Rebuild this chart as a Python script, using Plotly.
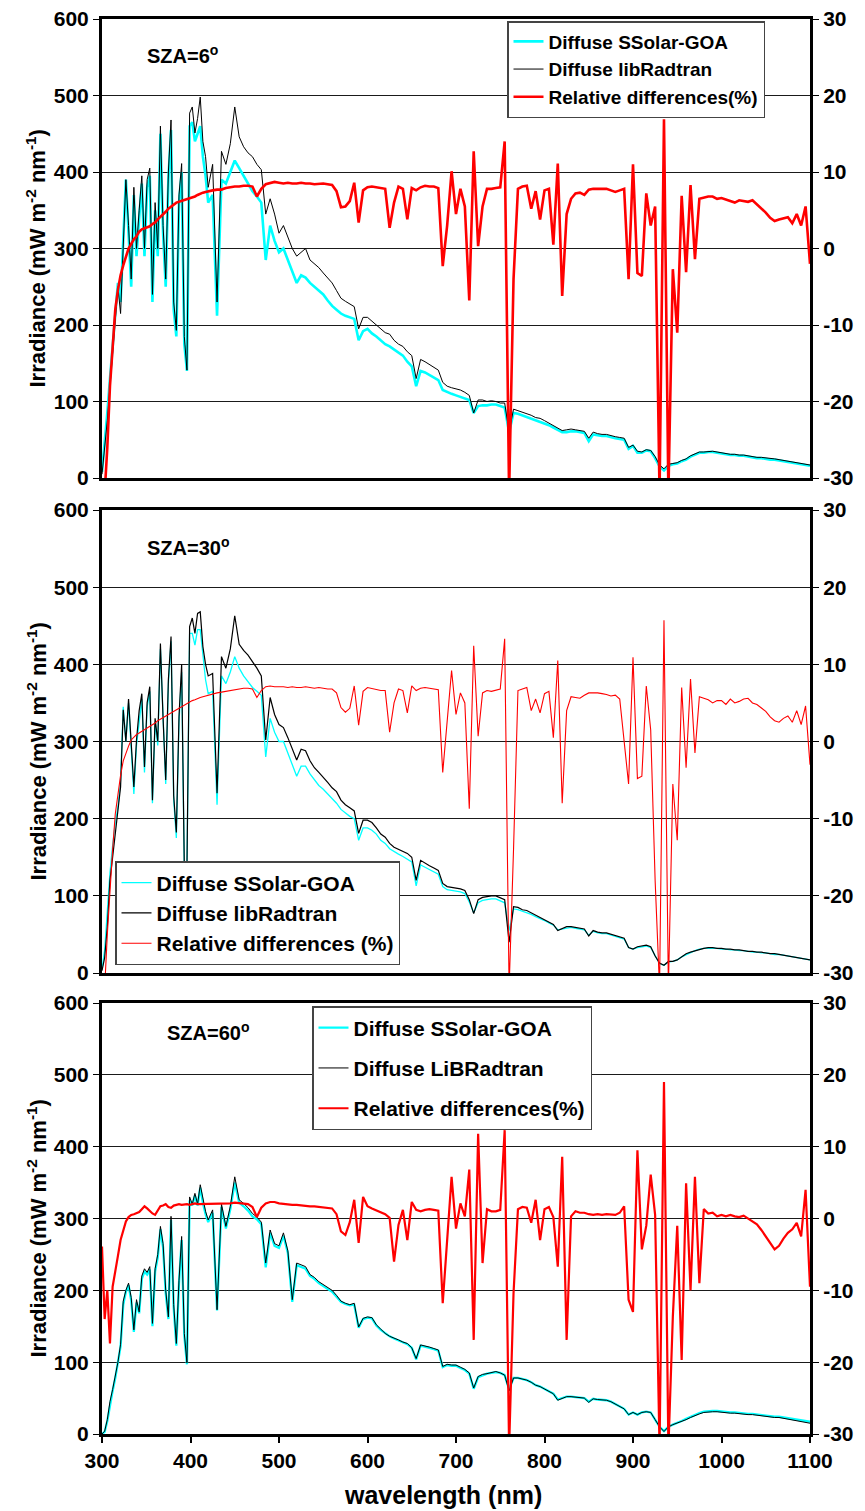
import plotly.graph_objects as go

# ---------------- data ----------------
WAVELENGTH = [300, 303, 306, 309, 312, 315, 318, 321, 324, 327, 330, 333, 336, 339, 342, 345, 348, 351, 354, 357,
              360, 363, 366, 369, 372, 375, 378, 381, 384, 387, 390, 393, 396, 399, 402, 405, 408, 411, 414, 417, 420,
              425, 430, 435, 440, 445, 450, 455, 460, 465, 470, 475, 480, 485, 490, 495, 500,
              505, 510, 515, 520, 525, 530, 535, 540, 545, 550, 555, 560, 565, 570, 575, 580, 585, 590, 595, 600,
              605, 610, 615, 620, 625, 630, 635, 640, 645, 650, 655, 660, 665, 670, 675, 680, 685, 690, 695, 700,
              705, 710, 715, 720, 725, 730, 735, 740, 745, 750, 755, 760, 765, 770, 775, 780, 785, 790, 795, 800,
              805, 810, 815, 820, 825, 830, 835, 840, 845, 850, 855, 860, 865, 870, 875, 880, 885, 890, 895, 900,
              905, 910, 915, 920, 925, 930, 935, 940, 945, 950, 955, 960, 965, 970, 975, 980, 985, 990, 995, 1000,
              1005, 1010, 1015, 1020, 1025, 1030, 1035, 1040, 1045, 1050, 1055, 1060, 1065, 1070, 1075, 1080, 1085, 1090, 1095, 1100]

# SZA = 6 deg
LIBRAD_6 = [5, 40, 75, 120, 160, 200, 250, 215, 300, 390, 330, 260, 380, 300, 350, 395, 300, 390, 405, 240,
            360, 300, 460, 330, 260, 400, 468, 230, 193, 370, 411, 185, 141, 477, 485, 451, 470, 498, 440, 420, 380,
            410, 230, 427, 410, 437, 485, 446, 433, 425, 420, 410, 403, 345, 365, 345, 320,
            330, 315, 300, 290, 295, 300, 285, 280, 275, 268, 262, 255, 245, 235, 231, 228, 224, 195, 210, 210,
            205, 200, 195, 190, 188, 180, 175, 172, 165, 160, 130, 155, 152, 148, 145, 141, 125, 120, 118, 117,
            115, 112, 108, 85, 102, 102, 100, 101, 100, 98, 98, 60, 90, 88, 86, 85, 82, 79, 78, 75,
            72, 68, 65, 62, 63, 64, 63, 62, 61, 52, 60, 58, 57, 57, 55, 54, 53, 52, 40, 43,
            35, 34, 37, 36, 28, 17, 12, 18, 19, 20, 23, 25, 29, 32, 34, 34, 35, 35, 34, 33,
            32, 31, 31, 30, 30, 29, 28, 27, 27, 26, 25, 25, 24, 23, 22, 21, 20, 19, 18, 17]
SSOLAR_6 = [8, 45, 85, 130, 170, 210, 255, 230, 310, 390, 320, 250, 370, 290, 340, 385, 290, 380, 395, 230,
            350, 290, 450, 320, 250, 390, 455, 220, 185, 360, 400, 175, 140, 460, 465, 440, 450, 460, 420, 395, 360,
            370, 212, 390, 385, 400, 415, 405, 395, 385, 375, 368, 360, 285, 330, 310, 295,
            300, 285, 270, 255, 265, 262, 255, 250, 245, 240, 232, 225, 220, 215, 212, 210, 208, 180, 192, 195,
            189, 185, 180, 175, 172, 168, 165, 160, 152, 146, 120, 140, 138, 135, 132, 128, 115, 112, 110, 108,
            106, 105, 102, 85, 94, 95, 95, 96, 96, 94, 92, 60, 85, 84, 82, 80, 78, 76, 74, 72,
            69, 66, 63, 60, 60, 61, 61, 60, 59, 48, 57, 56, 55, 55, 53, 52, 51, 50, 38, 42,
            33, 33, 36, 35, 26, 15, 10, 16, 18, 19, 22, 24, 28, 31, 33, 33, 34, 34, 33, 32,
            31, 30, 30, 29, 29, 28, 27, 26, 26, 25, 24, 24, 23, 22, 21, 20, 19, 18, 17, 16]
RELDIFF_6 = [-32, -32, -26, -18, -13, -8, -5.4, -3.5, -2.2, -1.2, 0, 0.6, 1.2, 1.6, 2.2, 2.5, 2.6, 2.7, 2.9, 3.2,
             3.4, 3.8, 4.1, 4.4, 4.8, 5.2, 5.5, 5.8, 6.0, 6.1, 6.2, 6.4, 6.5, 6.6, 6.7, 6.8, 7.0, 7.2, 7.3, 7.4, 7.5,
             7.6, 7.7, 7.7, 7.9, 8.0, 8.1, 8.1, 8.2, 8.2, 8.1, 6.8, 7.8, 8.4, 8.6, 8.7, 8.6,
             8.5, 8.6, 8.5, 8.5, 8.6, 8.5, 8.5, 8.4, 8.5, 8.5, 8.4, 8.3, 7.5, 5.4, 5.5, 6.2, 8.6, 3.4, 7.6, 8.0,
             8.1, 8.0, 7.9, 7.8, 2.7, 6.0, 8.1, 7.8, 3.8, 7.9, 7.6, 8.0, 8.2, 8.1, 8.1, 7.9, -2.3, 3.0, 10.1, 4.5,
             7.8, 5.5, -6.8, 12.7, 0.3, 5.5, 7.8, 7.8, 7.9, 8.0, 14.0, -32, -4, 7.8, 8.1, 8.2, 5.2, 7.5, 3.8, 7.6,
             7.8, 0.5, 11.1, -6.2, 4.5, 6.5, 7.2, 7.3, 7.0, 7.7, 7.8, 7.8, 7.8, 7.8, 7.6, 7.4, 7.6, 7.8, -4, 11.0,
             -3.2, -3.6, 7.2, 3.0, 5.5, -32, 16.9, -32, -2.7, -11, 6.9, -3.1, 8.3, -1.4, 6.5, 6.7, 6.8, 6.8, 6.5, 6.6,
             6.4, 6.2, 6.0, 6.3, 6.2, 6.1, 6.3, 5.8, 5.3, 4.7, 4.0, 3.6, 3.8, 4.0, 4.1, 3.3, 4.5, 3.0, 5.5, -2]

# SZA = 30 deg
LIBRAD_30 = [3, 20, 60, 120, 150, 182, 210, 241, 341, 300, 355, 300, 241, 302, 340, 362, 267, 350, 371, 224,
             330, 300, 427, 330, 250, 380, 436, 230, 182, 332, 400, 137, 138, 449, 460, 440, 466, 468, 423, 400, 385,
             388, 233, 410, 395, 420, 463, 426, 418, 412, 404, 395, 385, 302, 357, 335, 322,
             318, 305, 290, 276, 290, 288, 275, 266, 260, 254, 247, 240, 235, 224, 218, 214, 210, 181, 198, 198,
             195, 188, 180, 176, 168, 163, 160, 157, 155, 150, 120, 146, 142, 139, 136, 133, 116, 112, 111, 110,
             109, 107, 95, 77, 95, 98, 99, 100, 100, 98, 95, 40, 86, 85, 82, 81, 78, 75, 73, 70,
             67, 63, 55, 58, 60, 60, 59, 58, 57, 48, 55, 53, 52, 52, 50, 49, 47, 45, 33, 31,
             34, 35, 36, 34, 22, 13, 10, 15, 15, 17, 21, 25, 27, 29, 31, 32, 33, 33, 32, 32,
             31, 31, 30, 30, 29, 28, 28, 27, 27, 26, 25, 25, 24, 23, 22, 21, 20, 19, 18, 17]
SSOLAR_30 = [5, 30, 80, 130, 165, 195, 215, 250, 345, 300, 350, 290, 232, 295, 330, 355, 260, 345, 365, 220,
             325, 295, 420, 320, 245, 375, 430, 225, 175, 325, 390, 137, 140, 440, 440, 425, 445, 445, 410, 380, 362,
             365, 218, 385, 375, 390, 410, 395, 385, 378, 370, 365, 360, 280, 330, 312, 300,
             300, 285, 270, 255, 268, 268, 258, 250, 243, 238, 232, 225, 220, 212, 207, 203, 200, 172, 188, 188,
             185, 180, 172, 168, 161, 157, 154, 151, 148, 144, 113, 140, 137, 134, 131, 128, 112, 108, 107, 106,
             105, 103, 92, 78, 91, 94, 95, 96, 96, 94, 91, 55, 83, 82, 80, 79, 76, 73, 71, 68,
             65, 62, 56, 57, 58, 59, 58, 57, 56, 49, 54, 52, 51, 51, 49, 48, 46, 44, 33, 31,
             33, 34, 35, 33, 22, 12, 10, 14, 15, 17, 21, 24, 27, 29, 31, 32, 32, 32, 32, 31,
             31, 30, 30, 29, 29, 28, 27, 27, 26, 26, 25, 24, 24, 23, 22, 21, 20, 19, 18, 17]
RELDIFF_30 = [-32, -32, -25, -19, -14, -9.4, -6.5, -4.4, -2.5, -1.5, -0.6, 0.2, 0.6, 0.9, 1.1, 1.3, 1.5, 1.7, 2.0, 2.2,
              2.4, 2.7, 2.9, 3.1, 3.3, 3.5, 3.7, 3.9, 4.1, 4.3, 4.5, 4.8, 4.9, 5.1, 5.3, 5.4, 5.6, 5.7, 5.8, 5.9, 6.0,
              6.2, 6.3, 6.4, 6.5, 6.6, 6.7, 6.8, 6.9, 6.9, 6.8, 5.7, 6.6, 7.1, 7.2, 7.1, 7.1,
              7.1, 7.0, 7.1, 7.0, 7.0, 7.1, 7.0, 6.9, 7.0, 6.9, 6.8, 6.8, 6.3, 4.4, 3.8, 4.3, 7.2, 2.1, 6.5, 7.0,
              6.9, 6.7, 6.6, 6.6, 1.2, 5.0, 6.8, 6.6, 3.7, 7.2, 6.6, 6.9, 7.0, 6.9, 6.8, 6.7, -4.0, 2.6, 9.2, 3.5,
              6.3, 5.0, -8.7, 12.4, 0.7, 6.3, 6.6, 6.5, 6.7, 6.8, 13.3, -32, -14, 6.6, 6.8, 7.0, 4.0, 5.5, 3.7, 6.2,
              6.5, 0.5, 10.5, -8.0, 4.0, 5.8, 5.7, 5.6, 6.0, 6.3, 6.3, 6.3, 6.2, 6.1, 5.9, 6.0, 5.5, 0.1, -5.5, 10.9,
              -4.8, -4.5, 7.2, 1.5, -18, -32, 15.7, -32, -5.5, -12.8, 7.0, -3.4, 8.1, -1.5, 5.8, 5.6, 5.4, 5.0, 5.3, 5.3,
              4.8, 5.5, 5.0, 5.2, 5.5, 5.6, 5.0, 4.8, 4.3, 3.9, 3.2, 2.7, 2.5, 3.0, 3.3, 2.5, 4.0, 2.2, 4.6, -3]

# SZA = 60 deg
LIBRAD_60 = [0, 4, 20, 45, 62, 80, 100, 125, 185, 200, 210, 190, 145, 187, 170, 220, 230, 225, 233, 154,
             230, 250, 289, 265, 200, 163, 303, 180, 126, 214, 275, 140, 99, 330, 320, 335, 320, 347, 326, 310, 298,
             312, 173, 320, 289, 317, 358, 326, 321, 315, 307, 302, 295, 238, 284, 265, 262,
             280, 255, 187, 238, 235, 233, 222, 218, 212, 208, 205, 200, 193, 185, 182, 180, 182, 149, 161, 163,
             162, 152, 146, 140, 136, 134, 131, 128, 126, 120, 105, 124, 123, 121, 119, 117, 94, 97, 96, 96,
             93, 90, 85, 64, 80, 83, 84, 86, 87, 85, 82, 60, 78, 78, 77, 75, 72, 68, 66, 63,
             59, 56, 47, 50, 52, 52, 51, 50, 50, 44, 49, 48, 48, 47, 45, 42, 38, 35, 27, 30,
             27, 30, 31, 30, 20, 10, 3.5, 10, 13, 15, 18, 20, 23, 26, 28, 30, 31, 31, 31, 30,
             30, 29, 29, 28, 28, 27, 27, 26, 26, 25, 24, 23, 23, 22, 21, 20, 19, 17, 16, 15]
SSOLAR_60 = [0, 3, 18, 42, 60, 78, 98, 122, 180, 198, 207, 186, 142, 183, 168, 216, 226, 222, 229, 150,
             226, 246, 285, 260, 196, 160, 298, 176, 123, 210, 270, 137, 97, 325, 318, 332, 318, 343, 322, 306, 295,
             308, 172, 316, 286, 313, 350, 322, 317, 311, 303, 299, 292, 232, 280, 262, 259,
             276, 252, 184, 235, 232, 230, 220, 216, 210, 206, 203, 198, 191, 184, 181, 179, 180, 148, 160, 162,
             161, 151, 145, 140, 136, 133, 130, 128, 125, 120, 104, 123, 122, 120, 118, 116, 93, 96, 95, 95,
             92, 89, 84, 63, 79, 82, 84, 85, 86, 85, 82, 62, 78, 78, 77, 75, 72, 68, 66, 63,
             59, 56, 48, 50, 52, 52, 51, 50, 50, 45, 49, 48, 48, 47, 45, 42, 38, 35, 27, 30,
             27, 30, 31, 30, 20, 10, 4, 10, 13, 15, 18, 21, 24, 27, 29, 31, 32, 32, 32, 31,
             31, 30, 30, 29, 29, 28, 28, 27, 27, 26, 25, 24, 24, 23, 22, 21, 20, 19, 18, 17]
RELDIFF_60 = [-3.9, -14, -10, -17.4, -9.5, -7.6, -5.2, -3.0, -1.5, -0.4, 0.2, 0.5, 0.6, 0.8, 0.9, 1.3, 1.7, 1.4, 1.0, 0.7,
              0.5, 1.2, 1.7, 1.8, 2.0, 1.6, 1.5, 1.8, 1.9, 2.0, 1.9, 2.0, 2.0, 1.9, 2.0, 2.1, 2.0, 2.0, 2.1, 2.0, 2.1,
              2.0, 2.1, 2.1, 2.1, 2.1, 2.2, 2.1, 2.1, 2.0, 1.6, 0.2, 1.5, 2.1, 2.3, 2.3, 2.1,
              2.0, 2.0, 1.9, 1.9, 1.8, 1.7, 1.7, 1.7, 1.6, 1.6, 1.5, 1.4, 0.6, -1.8, -2.3, -0.5, 2.6, -3.4, 3.0, 1.7,
              1.4, 1.1, 0.9, 0.6, 0.1, -6.0, -0.9, 1.2, -3.0, 2.3, 1.2, 1.0, 1.2, 1.3, 1.2, 1.1, -11.8, -2.7, 5.8, -1.4,
              2.1, 0.3, 6.8, -16.9, 11.8, -6.2, 1.3, 1.0, 1.0, 1.2, 12.3, -32, -10.4, 1.3, 1.6, 1.5, -0.6, 2.6, -3.0, 1.3,
              1.6, 0.2, -6.7, 8.6, -16.9, 0.3, 1.0, 0.8, 0.8, 0.6, 0.5, 0.6, 0.5, 0.6, 0.5, 0.5, 0.8, 1.7, -11.3, -13,
              9.5, -4.3, -1.0, 6.1, 0.5, -32, 19, -32, -13.7, -1.0, -19.7, 4.9, -10, 5.8, -9.0, 1.3, 0.7, 0.8, 0.3, 0.5,
              0.3, 0.5, 0.3, 0.2, 0.4, 0.0, -0.3, -0.8, -1.6, -2.5, -3.5, -4.3, -3.8, -2.8, -2.0, -1.5, -0.6, -2.5, 4.0, -9.5]

X_TICKS = [300, 400, 500, 600, 700, 800, 900, 1000, 1100]
LEFT_TICKS = [0, 100, 200, 300, 400, 500, 600]
RIGHT_TICKS = [-30, -20, -10, 0, 10, 20, 30]

SZA_LABELS = ["SZA=6<sup>o</sup>", "SZA=30<sup>o</sup>", "SZA=60<sup>o</sup>"]
NAMES = [
    ["Diffuse SSolar-GOA", "Diffuse libRadtran", "Relative differences(%)"],
    ["Diffuse SSolar-GOA", "Diffuse libRadtran", "Relative differences (%)"],
    ["Diffuse SSolar-GOA", "Diffuse LiBRadtran", "Relative differences(%)"],
]

# ---------------- layout geometry (screen pixels) ----------------
OFF = 8                      # page body margin of the html page
W, H = 865 - OFF, 1511 - OFF  # figure size so it ends at the window edge
FONT = "Liberation Sans, Arial, sans-serif"
XL, XR = 102, 810
PANELS = [(19, 478), (510, 973), (1003, 1434)]
WIDTHS = [(2.6, 1.0, 2.6), (1.3, 1.2, 1.1), (2.3, 1.0, 2.2)]


def fx(px):
    return (px - OFF) / W


def fy(py):
    return 1 - (py - OFF) / H


series = [(SSOLAR_6, LIBRAD_6, RELDIFF_6), (SSOLAR_30, LIBRAD_30, RELDIFF_30), (SSOLAR_60, LIBRAD_60, RELDIFF_60)]

fig = go.Figure()
layout = dict(template="none", width=W, height=H, margin=dict(l=0, r=0, t=0, b=0, autoexpand=False),
              paper_bgcolor="white", plot_bgcolor="white",
              font=dict(family=FONT, color="black"), annotations=[])

legend_pos = [(507, 21, 19, 0), (115, 861, 21, 0), (312, 1006, 21, 10)]
sza_pos = [(145, 54), (145, 547), (165, 1031)]

for i, (top, bot) in enumerate(PANELS):
    xa = "x" if i == 0 else f"x{i + 1}"
    yl = "y" if i == 0 else f"y{2 * i + 1}"
    yr = f"y{2 * i + 2}"
    leg = "legend" if i == 0 else f"legend{i + 1}"
    cy, bk, rd = series[i]
    wc, wb, wr = WIDTHS[i]
    fig.add_trace(go.Scatter(x=WAVELENGTH, y=cy, mode="lines", name=NAMES[i][0],
                             line=dict(color="#00FFFF", width=wc), xaxis=xa, yaxis=yl,
                             legend=leg, legendgroup=f"c{i}"))
    fig.add_trace(go.Scatter(x=WAVELENGTH, y=bk, mode="lines", name=NAMES[i][1],
                             line=dict(color="#000000", width=wb), xaxis=xa, yaxis=yl,
                             legend=leg, legendgroup=f"b{i}"))
    fig.add_trace(go.Scatter(x=WAVELENGTH, y=rd, mode="lines", name=NAMES[i][2],
                             line=dict(color="#FF0000", width=wr), xaxis=xa, yaxis=yr,
                             legend=leg, legendgroup=f"r{i}"))

    last = (i == 2)
    xkey = "xaxis" if i == 0 else f"xaxis{i + 1}"
    ylkey = "yaxis" if i == 0 else f"yaxis{2 * i + 1}"
    yrkey = f"yaxis{2 * i + 2}"
    xax = dict(domain=[fx(XL), fx(XR)], range=[300, 1100], anchor=yl, automargin=False,
               showline=True, linewidth=3, linecolor="black", mirror=True,
               showgrid=False, zeroline=False)
    if last:
        xax.update(ticks="outside", ticklen=6, tickwidth=1.5, tickcolor="black",
                   tickmode="array", tickvals=X_TICKS, ticktext=[str(v) for v in X_TICKS],
                   showticklabels=True, ticklabeloverflow="allow",
                   tickfont=dict(family=FONT, size=21, weight="bold", color="black"))
    else:
        xax.update(ticks="", tickmode="array", tickvals=[], showticklabels=False)
    layout[xkey] = xax
    layout[ylkey] = dict(domain=[fy(bot), fy(top)], range=[0, 600], anchor=xa, automargin=False,
                         showline=True, linewidth=3, linecolor="black", mirror=True,
                         showgrid=True, gridcolor="#1a1a1a", gridwidth=1.3, zeroline=False,
                         ticks="outside", ticklen=6, tickwidth=1.3, tickcolor="black",
                         tickmode="array", tickvals=LEFT_TICKS, ticktext=[str(v) for v in LEFT_TICKS],
                         ticklabeloverflow="allow",
                         tickfont=dict(family=FONT, size=21, weight="bold", color="black"))
    layout[yrkey] = dict(overlaying=yl, side="right", anchor=xa, range=[-30, 30], automargin=False,
                         showline=True, linewidth=3, linecolor="black",
                         showgrid=False, zeroline=False,
                         ticks="outside", ticklen=6, tickwidth=1.3, tickcolor="black",
                         tickmode="array", tickvals=RIGHT_TICKS, ticktext=[str(v) for v in RIGHT_TICKS],
                         ticklabeloverflow="allow",
                         tickfont=dict(family=FONT, size=21, weight="bold", color="black"))

    lx, ly, lfs, gap = legend_pos[i]
    layout[leg] = dict(x=fx(lx), y=fy(ly), xanchor="left", yanchor="top",
                       bgcolor="white", bordercolor="#444444", borderwidth=1.5,
                       font=dict(family=FONT, size=lfs, weight="bold", color="black"),
                       traceorder="grouped" if gap else "normal", tracegroupgap=gap,
                       itemwidth=30)

    sx, sy = sza_pos[i]
    layout["annotations"].append(dict(text=SZA_LABELS[i], x=fx(sx), y=fy(sy), xref="paper", yref="paper",
                                      xanchor="left", yanchor="middle", showarrow=False,
                                      font=dict(family=FONT, size=20, weight="bold", color="black")))
    layout["annotations"].append(dict(text="Irradiance (mW m<sup>-2</sup> nm<sup>-1</sup>)",
                                      x=fx(36), y=fy((top + bot) / 2 + 10), xref="paper", yref="paper",
                                      xanchor="center", yanchor="middle", textangle=-90, showarrow=False,
                                      font=dict(family=FONT, size=22, weight="bold", color="black")))

layout["annotations"].append(dict(text="wavelength (nm)", x=fx(443), y=fy(1495), xref="paper", yref="paper",
                                  xanchor="center", yanchor="middle", showarrow=False,
                                  font=dict(family=FONT, size=25, weight="bold", color="black")))

fig.update_layout(**layout)
fig.write_html("out.html")
